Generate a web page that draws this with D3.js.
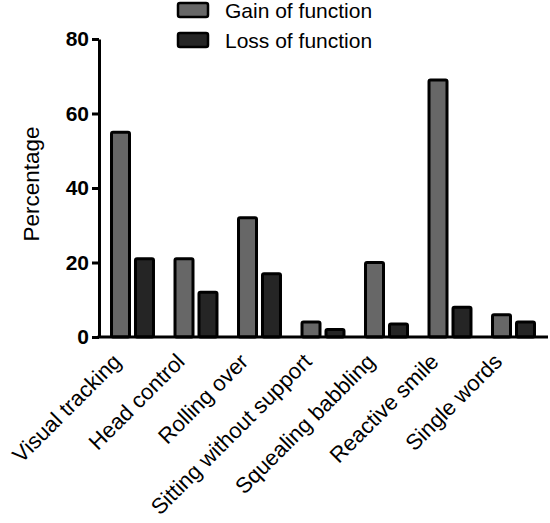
<!DOCTYPE html>
<html><head><meta charset="utf-8">
<script src="https://cdn.jsdelivr.net/npm/d3@7"></script>
<style>body{margin:0;background:#fff}svg{display:block}</style>
</head><body>
<svg id="c" width="550" height="523"></svg>
<script>
const categories = ["Visual tracking","Head control","Rolling over","Sitting without support","Squealing babbling","Reactive smile","Single words"];
const seriesNames = ["Gain of function","Loss of function"];
const gainValues = [55,21,32,4,20,69,6];
const lossValues = [21,12,17,2,3.5,8,4];
const yTicks = [0,20,40,60,80];
const colors = ["#676767","#252525"];

const svg = d3.select("#c");
const font = "Liberation Sans, Arial, sans-serif";
const x0 = 99, x1 = 547, yBase = 337, yTop = 39;

const x = d3.scaleBand().domain(categories).range([x0,x1]).paddingInner(0.339).paddingOuter(0.197);
const xs = d3.scaleBand().domain(seriesNames).range([0,x.bandwidth()]).paddingInner(0.25).paddingOuter(0);
const y = d3.scaleLinear().domain([0,80]).range([yBase,yTop]);

const data = categories.map((c,i)=>({cat:c, vals:[gainValues[i],lossValues[i]]}));

// bars
const g = svg.append("g");
data.forEach(d=>{
  d.vals.forEach((v,j)=>{
    g.append("rect")
      .attr("x", x(d.cat)+xs(seriesNames[j]))
      .attr("y", y(v))
      .attr("width", xs.bandwidth())
      .attr("height", yBase - y(v))
      .attr("rx",1.5)
      .attr("fill", colors[j])
      .attr("stroke","#000").attr("stroke-width",3);
  });
});

// y axis
const ya = svg.append("g").attr("transform",`translate(${x0},0)`)
  .call(d3.axisLeft(y).tickValues(yTicks).tickSize(7).tickPadding(3).tickSizeOuter(0));
ya.select(".domain").attr("stroke","#000").attr("stroke-width",3);
ya.selectAll(".tick line").attr("stroke","#000").attr("stroke-width",3);
ya.selectAll(".tick text").attr("font-family",font).attr("font-size",21).attr("font-weight","bold").attr("fill","#000");

// x axis baseline
const xa = svg.append("g").attr("transform",`translate(0,${yBase})`)
  .call(d3.axisBottom(x).tickSize(0).tickPadding(0));
xa.select(".domain").attr("d",`M${x0-1.5},0H${x1+1}`).attr("stroke","#000").attr("stroke-width",3);
xa.selectAll(".tick text")
  .attr("font-family",font).attr("font-size",22).attr("fill","#000")
  .attr("text-anchor","end").attr("dy",0)
  .attr("transform","translate(-10,26) rotate(-45)");

// y title
svg.append("text").attr("transform","translate(39,184) rotate(-90)")
  .attr("text-anchor","middle").attr("font-family",font).attr("font-size",22.5).attr("fill","#000")
  .text("Percentage");

// legend
const lg = svg.append("g");
seriesNames.forEach((s,i)=>{
  lg.append("rect").attr("x",178).attr("y",3+i*30).attr("width",30).attr("height",14).attr("rx",2)
    .attr("fill",colors[i]).attr("stroke","#000").attr("stroke-width",2.5);
  lg.append("text").attr("x",225).attr("y",18+i*30).attr("font-family",font).attr("font-size",21).attr("fill","#000").text(s);
});
</script>
</body></html>
